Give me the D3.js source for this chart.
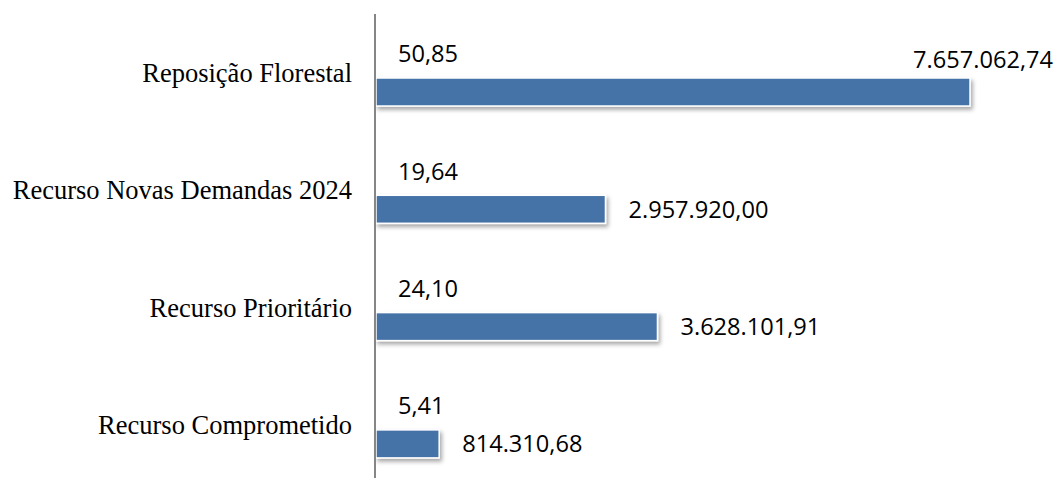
<!DOCTYPE html>
<html>
<head>
<meta charset="utf-8">
<script src="https://cdn.jsdelivr.net/npm/d3@7"></script>
<style>
  body { margin: 0; background: #fff; }
  svg { display: block; }
</style>
</head>
<body>
<div id="chart"></div>
<script>
// data
const categories = ["Reposição Florestal", "Recurso Novas Demandas 2024", "Recurso Prioritário", "Recurso Comprometido"];
const percentValues = [50.85, 19.64, 24.10, 5.41];
const amountValues = [7657062.74, 2957920.00, 3628101.91, 814310.68];

const width = 1059, height = 478;
const axisX = 375;

const svg = d3.select("#chart").append("svg")
    .attr("width", width)
    .attr("height", height);

// drop shadow under bars
const defs = svg.append("defs");
defs.append("filter")
    .attr("id", "shadow")
    .attr("x", "-5%").attr("y", "-20%")
    .attr("width", "120%").attr("height", "160%")
  .append("feDropShadow")
    .attr("dx", 2).attr("dy", 3)
    .attr("stdDeviation", 2)
    .attr("flood-color", "#000")
    .attr("flood-opacity", 0.35);

const x = d3.scaleLinear()
    .domain([0, 8000000])
    .range([axisX + 1, axisX + 1 + 594 * 8000000 / 7657062.74]);

const y = d3.scaleBand()
    .domain(categories)
    .range([14, 483.2]);

const sub = d3.scaleBand()
    .domain(["pct", "amount"])
    .range([21, 97])
    .paddingInner(10 / 38)
    .paddingOuter(5 / 38);

const fmtAmount = v => d3.format(",.2f")(v).replace(/,/g, "#").replace(/\./g, ",").replace(/#/g, ".");
const fmtPct = v => d3.format(".2f")(v).replace(".", ",");

const rows = categories.map((c, i) => ({cat: c, pct: percentValues[i], amount: amountValues[i]}));

// category labels
svg.append("g").selectAll("text")
    .data(rows)
    .join("text")
    .attr("x", 352)
    .attr("y", d => y(d.cat) + y.bandwidth() / 2)
    .attr("dy", "0.35em")
    .attr("text-anchor", "end")
    .style("font-family", "'Liberation Serif', 'Times New Roman', serif")
    .style("font-size", "26.5px")
    .style("fill", "#000")
    .text(d => d.cat);

// amount bars (percent bars are on the same scale, so they have no width)
svg.append("g").selectAll("rect")
    .data(rows)
    .join("rect")
    .attr("x", x(0))
    .attr("y", d => y(d.cat) + sub("amount"))
    .attr("width", d => x(d.amount) - x(0))
    .attr("height", sub.bandwidth())
    .attr("fill", "#4572a7")
    .attr("stroke", "#fff")
    .attr("stroke-width", 1.5)
    .attr("filter", "url(#shadow)");

const numFont = "'Open Sans', 'Liberation Sans', sans-serif";
const numSize = "23.6px";

// percent labels
svg.append("g").selectAll("text")
    .data(rows)
    .join("text")
    .attr("x", x(0) + 22)
    .attr("y", d => y(d.cat) + sub("pct") + sub.bandwidth() / 2)
    .attr("dy", "0.35em")
    .style("font-family", numFont)
    .style("font-size", numSize)
    .style("fill", "#000")
    .text(d => fmtPct(d.pct));

// amount labels
svg.append("g").selectAll("text")
    .data(rows)
    .join("text")
    .each(function(d) {
        const t = d3.select(this);
        const cy = y(d.cat) + sub("amount") + sub.bandwidth() / 2;
        const endX = x(d.amount);
        t.style("font-family", numFont)
         .style("font-size", numSize)
         .style("fill", "#000")
         .attr("dy", "0.35em")
         .text(fmtAmount(d.amount));
        const w = this.getComputedTextLength();
        if (endX + 23 + w > width - 4) {
            t.attr("x", width - 6).attr("text-anchor", "end").attr("y", cy - 32);
        } else {
            t.attr("x", endX + 23).attr("y", cy);
        }
    });

// vertical axis line
svg.append("line")
    .attr("x1", axisX).attr("x2", axisX)
    .attr("y1", 14).attr("y2", 483)
    .attr("stroke", "#868686")
    .attr("stroke-width", 2);
</script>
</body>
</html>
